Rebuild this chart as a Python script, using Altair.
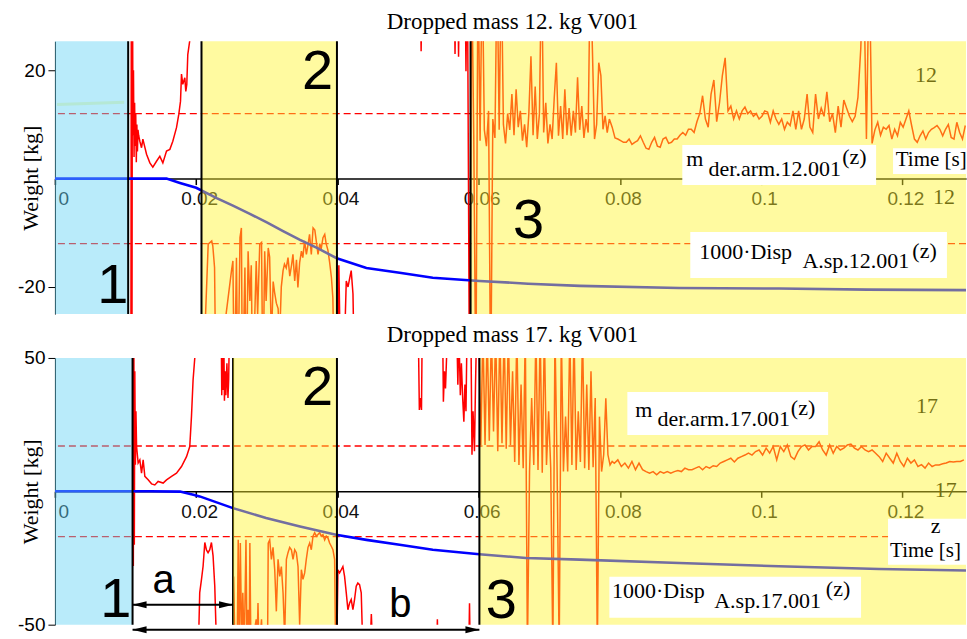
import altair as alt
import pandas as pd

# ------------------------------------------------------------------ common
X_TICKS = [0, 0.02, 0.04, 0.06, 0.08, 0.1, 0.12]
RED = "#ff0000"
BLUE = "#0000ff"
OV_YELLOW = "#fff42c"
OV_BLUE = "#63d3f4"

# ------------------------------------------------------------------ panel 1 (12 kg)
TOP_TITLE = "Dropped mass 12. kg V001"
TOP_MASS = 12
TOP_YDOMAIN = [-25, 25.35]
TOP_YTICKS = [-20, 20]

TOP_REGIONS_MS = [[0.0, 10.37, "blue"], [20.75, 39.93, "yellow"], [58.85, 129.0, "yellow"]]
TOP_BLACK_LINES_MS = [10.37, 20.75, 39.93, 58.85]
TOP_DIM_LINES_MS = []

TOP_FAINT_MS = [0.3, 9.8]
TOP_FAINT_V = [13.7, 14.1]

TOP_A_MS = [10.75, 10.82, 10.9, 10.97, 11.05, 11.12, 11.2, 11.28, 11.36, 11.44, 11.52, 11.6, 11.68,
            11.76, 11.85, 12.02, 12.26, 12.45, 12.97, 13.44, 13.86, 14.38, 14.85, 15.28, 15.8, 16.27,
            16.69, 17.21, 17.54, 17.78, 17.92, 18.1, 18.39, 18.53, 18.67, 18.81, 19.09, 19.2]
TOP_A_V = [-40, 40, -40, 40, 8, 20, 4, 14, 6, 12, 3, 10, 5, 9, 8, 6.9, 5.7, 7.3, 4.5, 2.9, 2.1, 3.2,
           4.1, 2.9, 5.1, 5.4, 6.9, 9.4, 11.9, 14.3, 19.3, 17.4, 18.6, 16.1, 17.4, 22.9, 25.5, 40]

TOP_B_MS = [20.9, 21.7, 22.2, 22.35, 22.6, 22.8, 25.0, 25.2, 25.4, 25.7, 25.9, 26.2, 26.4, 26.55,
            26.9, 27.1, 27.35, 27.6, 27.8, 28.0, 28.5, 28.7, 29.0, 29.25, 29.45, 29.7, 29.9, 30.2,
            30.4, 30.65, 30.9, 31.1, 31.35, 31.6, 31.8, 32.05, 32.3, 32.5, 32.75, 33.0, 33.25, 33.5,
            33.7, 33.95, 34.2, 34.4, 34.65, 34.9, 35.1, 35.35, 35.6, 35.85, 36.05, 36.3, 36.55, 36.8,
            37.0, 37.25, 37.5, 37.7, 37.95, 38.2, 38.4, 38.65, 38.9, 39.15, 39.35, 39.6, 40.0, 40.2,
            40.5, 40.8, 41.25, 41.5, 41.75, 41.95, 42.2, 42.45]
TOP_B_V = [-40, -12.1, -11.5, -12.4, -16.4, -40, -17, -15.2, -40, -14.6, -40, -10.9, -9.1, -40,
           -16.4, -40, -13.4, -22.6, -16, -40, -15.2, -25, -12.1, -11.8, -40, -13.4, -22.6, -12.8,
           -14.5, -30, -19, -21, -23, -24, -30, -20, -17, -15.8, -16.5, -14.6, -18, -16, -14, -18.9,
           -15, -20.1, -15.5, -13.4, -14.6, -11.5, -14, -12.1, -10.3, -14, -9.1, -9.5, -11.5, -14,
           -12, -13, -10.9, -10.3, -12, -13.2, -15.5, -18.3, -22, -40, -35, -16, -40, -40, -18.9,
           -20, -18.3, -17, -21.3, -40]

TOP_C_MS = [51.7, 51.85, 52.0, 56.5, 56.65, 56.8, 57.0, 57.15, 57.3, 58.05, 58.2, 58.35]
TOP_C_V = [40, 23.5, 40, 40, 23, 40, 40, 22.5, 40, 40, 19.8, 40]

TOP_D1_T0, TOP_D1_STEP = 58.4, 0.3
TOP_D1_V = [40, -40, 40, 8, -40, 40, 7, 40, 9, 6,
            12.5, -40, 11, 7.5, 40, 9, 40, 10, 6.5, 12,
            9, 15.6, 8, 16.5, 9.5, 12.5, 7, 10, 5.8, 12,
            22.6, 8, 17, 7.3, 12, 40, 8.5, 14, 6.5, 10,
            7.3, 15, 21.4, 7.9, 13.4, 7.3, 16.5, 8, 13, 7.9,
            12.5, 8.5, 18.7, 9, 13.4, 7.5, 11, 8.5, 40, 23.9,
            7.3, 10, 21.4, 19, 9.1, 11.6, 8.5, 11]
TOP_D2_T0, TOP_D2_STEP = 78.5, 0.4
TOP_D2_V = [11, 9.5, 7.5, 7.3, 7.0, 6.7, 6.7, 7.3, 6.3, 6.7,
            7.0, 7.9, 6.7, 5.6, 5.4, 6.7, 7.6, 6.0, 5.8, 7.3,
            7.6, 6.5, 6.7, 7.3, 7.3, 8.0, 8.5, 8.0, 9.1, 9.1,
            8.5, 10.5, 12, 15.3, 11, 9.5, 15.6, 18.2, 10.5, 14,
            19, 22.3, 12.5, 13.4, 11, 12.5, 11, 12.5, 13.2, 12,
            12.5, 11.5, 12, 11, 11.5, 12.5, 12.3, 10.4, 12.5, 11,
            10, 11, 9.1, 10.4, 9.8, 12.5, 9.1, 12.5, 9.1, 11,
            15.6, 9.5, 8.5, 15.6, 11, 13, 11.5, 16, 10.5, 12,
            8.5, 13.4, 9.5, 14.5, 13, 11.5, 10.5, 11.5, 15, 24,
            40, 7.3, 40, 6.5, 9, 10.4, 8.0, 9.5, 9.1, 9.8,
            7.3, 9.1, 7.9, 10.4, 9.5, 11, 12.5, 9.8, 7.3, 6.7,
            7.9, 8.8, 7.3, 8.5, 9.1, 9.4, 9.8, 9.1, 7.9, 9.1,
            10, 7.6, 7.3, 10.4, 8.5, 7.3, 9.8]

TOP_DISP_MS = [0, 15.8, 17.7, 20.0, 22.9, 25.2, 27.6, 30.0, 32.3, 34.7, 37.1, 39.9, 44.1, 48.8,
               53.5, 60.1, 67.0, 74.3, 88.4, 102.5, 115.0, 129.0]
TOP_DISP_V = [0, 0, -0.8, -1.7, -3.6, -5.0, -6.5, -8.1, -9.7, -11.3, -12.8, -14.7, -16.5, -17.4,
              -18.3, -18.9, -19.4, -19.8, -20.2, -20.3, -20.5, -20.6]

TOP_BOXES = [[88.83, 116.27, 6.18, -1.2], [89.96, 126.3, -9.86, -18.34], [118.67, 129.0, 5.62, 0.83]]
TOP_LABELS = ["m", "der.arm.12.001", "(z)", "1000·Disp", "A.sp.12.001", "(z)", "Time [s]"]
TOP_LABELS_MS = [89.39, 92.55, 111.46, 91.23, 105.84, 121.4, 119.05]
TOP_LABELS_V = [2.30, 0.46, 2.67, -14.89, -16.44, -14.6, 2.30]
TOP_LABELS_SIZE = [22, 22, 22, 22, 22, 22, 21]
TOP_CENTER_LABELS = []
TOP_CENTER_MS = []
TOP_CENTER_V = []
TOP_DIM_TEXT = ["12", "12"]
TOP_DIM_MS = [123.34, 125.88]
TOP_DIM_V = [17.79, -4.7]
TOP_BIG = ["1", "2", "3"]
TOP_BIG_MS = [8.2, 37.2, 67.05]
TOP_BIG_V = [-22.95, 16.5, -10.97]
TOP_BIG_SIZE = [56, 56, 56]
TOP_ARROWS = []

# ------------------------------------------------------------------ panel 2 (17 kg)
BOT_TITLE = "Dropped mass 17. kg V001"
BOT_MASS = 17
BOT_YDOMAIN = [-50, 50]
BOT_YTICKS = [-50, 50]

BOT_REGIONS_MS = [[0.0, 10.99, "blue"], [25.22, 39.93, "yellow"], [60.1, 129.0, "yellow"]]
BOT_BLACK_LINES_MS = [10.99, 39.93, 60.1]
BOT_DIM_LINES_MS = [25.22]

BOT_A_MS = [11.1, 11.17, 11.24, 11.31, 11.39, 11.47, 11.56, 11.78, 12.02, 12.26, 12.49, 12.73, 13.2,
            13.68, 14.14, 14.61, 15.32, 15.8, 16.51, 17.21, 17.92, 18.63, 19.09, 19.33, 19.56, 19.8, 19.9]
BOT_A_V = [-28, 60, -20, 45, 10, 30, 16.8, 10.6, 11.8, 6.8, 11.8, 5.6, 4.3, 2.8, 2.4, 3.7, 3.1, 4.3,
           5.6, 6.8, 9.3, 13, 16.8, 28, 41.8, 50, 60]

BOT_LOW1_MS = [20.3, 20.5, 20.75, 20.98, 21.22, 21.45, 21.68, 21.92, 22.16, 22.39, 22.63, 22.9]
BOT_LOW1_V = [-60, -38, -33, -28, -19.2, -22, -23, -21.9, -19.2, -24.2, -35.5, -60]

BOT_TOP1_MS = [23.55, 23.62, 23.7, 23.8, 23.9, 24.0, 24.1, 24.2, 24.35, 24.5, 24.6, 24.7]
BOT_TOP1_V = [60, 36, 60, 38, 60, 34, 45, 36, 48, 35, 42, 60]

BOT_B_MS = [25.2, 25.3, 25.5, 25.8, 25.95, 26.1, 26.25, 26.45, 26.6, 26.8, 27.05, 27.2, 27.35, 27.5,
            27.6, 27.75, 28.5, 28.6, 28.75, 28.9, 29.25, 29.4, 30.1, 30.2, 30.41, 30.65, 30.88, 31.12,
            31.35, 31.59, 31.83, 32.06, 32.3, 32.53, 32.77, 33.0, 33.24, 33.48, 33.71, 33.95, 34.18,
            34.42, 34.65, 34.89, 35.12, 35.36, 35.59, 35.83, 36.07, 36.3, 36.54, 36.77, 37.01, 37.24,
            37.48, 37.71, 37.95, 38.19, 38.42, 38.66, 38.89, 39.13, 39.36, 39.6, 39.74, 39.9, 40.07,
            40.3, 40.54, 40.77, 41.01, 41.25, 41.48, 41.72, 41.95, 42.19, 42.42, 42.66, 42.89, 43.13,
            43.37, 43.6]
BOT_B_V = [-60, -31.9, -60, -60, -18.2, -60, -19.4, -60, -38, -60, -18.2, -60, -44.4, -60, -19.4,
           -60, -48, -60, -41.9, -60, -48, -60, -60, -19.4, -18.2, -25.5, -21, -29.4, -45, -25.5,
           -31.9, -28.2, -38.1, -55, -25.5, -23, -21, -21.9, -25.5, -21.9, -23, -28.2, -50, -29.4,
           -33, -30.6, -25.5, -21, -19.4, -21.9, -16.8, -15.5, -16.8, -16.2, -15.5, -16.8, -16.2,
           -18.2, -16.8, -17.5, -19.4, -20.6, -21.9, -25.5, -60, -60, -29.4, -30.6, -29.4, -28.2,
           -31.9, -38.1, -44.4, -41.9, -40.6, -44.4, -40.6, -35.6, -34.4, -35, -38.1, -60]

BOT_LOW2_MS = [44.6, 44.8, 45.0, 54.05, 54.15, 54.25, 58.6, 58.7, 58.8]
BOT_LOW2_V = [-60, -46, -60, -60, -48, -60, -60, -42, -60]

BOT_TOP2_MS = [51.45, 51.6, 51.75, 51.9, 52.0, 54.9, 55.0, 55.15, 55.3, 55.45, 55.6, 56.9, 57.05,
               57.2, 57.4, 57.55, 57.75, 57.9, 58.05, 58.2, 58.35, 58.9, 59.05, 59.2, 59.4, 59.55, 59.7]
BOT_TOP2_V = [60, 30.5, 35, 30.5, 60, 60, 33.6, 45, 38.6, 50, 60, 60, 40, 60, 36, 48, 34, 26.1, 40,
              30, 60, 60, 13.7, 30, 15, 40, 60]

BOT_E1_T0, BOT_E1_STEP = 60.0, 0.3
BOT_E1_V = [60, 17.4, 60, 17.4, 60, 19, 60, 22.4, 60, 15,
            60, 18, 60, 16, 60, 17.4, 45, 11, 60, 9.9,
            40, 8.7, 60, -60, 7.4, 35, 9.9, 60, 8, 60,
            7, 60, 9.9, 30, 8.7, -60, 60, 8.7, -60, 60,
            7.4, 28, 7.4, 60, 9.9, 60, 8, 30, 11, 60,
            8.7, 40, 8, 45, 9, 35, -60, 28, 7.4, 13.7,
            34.9, 13.7, 9.9, 11.2]
BOT_E2_T0, BOT_E2_STEP = 79.2, 0.5
BOT_E2_V = [10.5, 11.8, 9.3, 10.6, 8.7, 11.2, 8.1, 10.6, 8.1, 7.4,
            6.8, 7.4, 6.2, 7.4, 6.8, 7.4, 6.8, 7.4, 7.8, 7.4,
            8.7, 8.1, 8.1, 8.7, 9.3, 8.1, 9.3, 8.7, 9.6, 9.3,
            10.6, 11.2, 11.8, 12.4, 11, 12.4, 13, 13.6, 14.3, 13.6,
            14.9, 15.5, 13.6, 16.2, 14.3, 16.8, 11.8, 16.8, 14.9, 17.4,
            13, 12, 14.9, 16.8, 17.4, 15.5, 16.8, 16.8, 18.6, 15.5,
            13.6, 17.4, 14.3, 16.8, 15.5, 16.2, 17.4, 17.7, 16.2, 15.5,
            16.8, 15.5, 14.9, 15.5, 14.3, 13, 11.2, 14.3, 12.4, 10.6,
            14.3, 11.2, 9.3, 12.4, 10.6, 11.8, 9.3, 10, 8.7, 10.6,
            9.3, 9.9, 9.9, 10.3, 10.6, 11.2, 11, 11.2, 11.2, 11.8]

BOT_DISP_MS = [0, 13.4, 17.7, 19.6, 20.5, 25.2, 29.9, 34.7, 39.8, 44.1, 48.8, 53.5, 60.1, 66.7,
               74.3, 88.4, 102.5, 116.7, 129.0]
BOT_DISP_V = [0, 0, -0.1, -1.3, -1.9, -6.3, -10.0, -13.2, -16.3, -18.2, -20.0, -21.9, -23.6, -25.0,
              -25.6, -26.9, -28.1, -29.1, -29.7]

BOT_BOXES = [[81.05, 109.48, 37.27, 21.16], [78.5, 114.14, -32.02, -47.38], [117.96, 129.0, -10.3, -27.5]]
BOT_LABELS = ["m", "der.arm.17.001", "(z)", "1000·Disp", "A.sp.17.001", "(z)", "Time [s]"]
BOT_LABELS_MS = [82.18, 85.33, 104.2, 78.88, 93.35, 109.15, 118.25]
BOT_LABELS_V = [28.0, 24.5, 28.65, -40.0, -43.75, -39.4, -24.65]
BOT_LABELS_SIZE = [22, 22, 22, 22, 22, 22, 21]
BOT_CENTER_LABELS = ["z"]
BOT_CENTER_MS = [124.7]
BOT_CENTER_V = [-15.66]
BOT_DIM_TEXT = ["17", "17"]
BOT_DIM_MS = [123.48, 126.12]
BOT_DIM_V = [29.4, -1.95]
BOT_BIG = ["1", "2", "3", "a", "b"]
BOT_BIG_MS = [8.63, 37.2, 63.2, 15.4, 48.9]
BOT_BIG_V = [-47.0, 32.4, -47.4, -38.0, -47.0]
BOT_BIG_SIZE = [56, 56, 56, 40, 40]
# arrows: start ms, end ms, level
BOT_ARROWS = [[10.99, 25.22, -42.5], [10.99, 60.1, -51.9]]
ARROW_HEAD_MS = 0.99


def pairs(seg, ms, v):
    return pd.DataFrame({"t": [m / 1000.0 for m in ms], "v": v, "seg": seg})


def grid(seg, t0, step, v):
    return pd.DataFrame({"t": [(t0 + i * step) / 1000.0 for i in range(len(v))], "v": v, "seg": seg})


def make_panel(P):
    H = P["height"]
    lo, hi = P["ydomain"]
    off = -(H - H * hi / (hi - lo))
    xs = alt.Scale(domain=[0, 0.129], nice=False, zero=False)
    ys = alt.Scale(domain=[lo, hi], nice=False, zero=False)
    xaxis = alt.Axis(values=X_TICKS, format="~g", title=None, offset=off, grid=False,
                     domainColor="black", domainWidth=1.5, tickColor="black", tickWidth=1.5,
                     tickSize=6, labelFont="Liberation Sans", labelFontSize=19,
                     labelColor="#111111", labelPadding=5, labelOffset=3)
    yaxis = alt.Axis(values=P["yticks"], title="Weight [kg]", grid=False,
                     titleFont="Liberation Serif", titleFontSize=22, titleFontWeight="normal",
                     titleColor="black", titleX=-24, titleY=H / 2, titleBaseline="middle",
                     titleAlign="center", labelFont="Liberation Sans", labelFontSize=19,
                     labelColor="black", labelPadding=3, tickSize=7, tickColor="black",
                     domainColor="black",
                     labelExpr="datum.value < 0 ? '-' + abs(datum.value) : datum.label")

    def X(f="t"):
        return alt.X(f + ":Q", scale=xs, axis=xaxis)

    def Y(f="v"):
        return alt.Y(f + ":Q", scale=ys, axis=yaxis)

    layers = []
    # dashed +/- mass lines
    dash = pd.DataFrame({"v": [P["mass"], -P["mass"]]})
    layers.append(alt.Chart(dash).mark_rule(color=RED, strokeDash=[7, 4], strokeWidth=1.3)
                  .encode(y=Y()))
    if P.get("faint"):
        fd = pairs("faint", *P["faint"])
        layers.append(alt.Chart(fd).mark_line(color="#f4f7a0", strokeWidth=3, opacity=0.7, clip=True)
                      .encode(x=X(), y=Y()))
    sig = pd.concat(P["signal"], ignore_index=True)
    layers.append(alt.Chart(sig).mark_line(color=RED, strokeWidth=1.5, clip=True)
                  .encode(x=X(), y=Y(), detail="seg:N"))
    disp = pairs("disp", P["disp_ms"], P["disp_v"])
    layers.append(alt.Chart(disp).mark_line(color=BLUE, strokeWidth=2.6, clip=True)
                  .encode(x=X(), y=Y()))
    # texts and lines that sit under the coloured overlay
    dim = pd.DataFrame({"t": [m / 1000 for m in P["dim_ms"]], "v": P["dim_v"], "txt": P["dim_text"]})
    layers.append(alt.Chart(dim).mark_text(font="Liberation Serif", fontSize=22, color="black",
                                           align="center", baseline="alphabetic")
                  .encode(x=X(), y=Y(), text="txt:N"))
    if P["dim_lines"]:
        dl = pd.DataFrame({"t": [m / 1000 for m in P["dim_lines"]]})
        layers.append(alt.Chart(dl).mark_rule(color="black", strokeWidth=2).encode(x=X()))
    # coloured translucent regions
    reg = pd.DataFrame({"t": [r[0] / 1000 for r in P["regions"]],
                        "t2": [r[1] / 1000 for r in P["regions"]],
                        "c": [OV_BLUE if r[2] == "blue" else OV_YELLOW for r in P["regions"]]})
    layers.append(alt.Chart(reg).mark_rect(opacity=0.45)
                  .encode(x=X(), x2="t2:Q", color=alt.Color("c:N", scale=None)))
    bl = pd.DataFrame({"t": [m / 1000 for m in P["black_lines"]]})
    layers.append(alt.Chart(bl).mark_rule(color="black", strokeWidth=2).encode(x=X()))
    # white label boxes
    bx = pd.DataFrame({"t": [b[0] / 1000 for b in P["boxes"]], "t2": [b[1] / 1000 for b in P["boxes"]],
                       "v": [b[2] for b in P["boxes"]], "v2": [b[3] for b in P["boxes"]]})
    layers.append(alt.Chart(bx).mark_rect(color="white", opacity=1)
                  .encode(x=X(), x2="t2:Q", y=Y(), y2="v2:Q"))
    lab = pd.DataFrame({"t": [m / 1000 for m in P["labels_ms"]], "v": P["labels_v"],
                        "txt": P["labels"], "s": P["labels_size"]})
    layers.append(alt.Chart(lab).mark_text(font="Liberation Serif", color="black", align="left",
                                           baseline="alphabetic")
                  .encode(x=X(), y=Y(), text="txt:N", size=alt.Size("s:Q", scale=None, legend=None)))
    if P["center_labels"]:
        cl = pd.DataFrame({"t": [m / 1000 for m in P["center_ms"]], "v": P["center_v"],
                           "txt": P["center_labels"]})
        layers.append(alt.Chart(cl).mark_text(font="Liberation Serif", fontSize=22, color="black",
                                              align="center", baseline="alphabetic")
                      .encode(x=X(), y=Y(), text="txt:N"))
    big = pd.DataFrame({"t": [m / 1000 for m in P["big_ms"]], "v": P["big_v"], "txt": P["big"],
                        "s": P["big_size"]})
    layers.append(alt.Chart(big).mark_text(font="Liberation Sans", color="black", align="center",
                                           baseline="alphabetic")
                  .encode(x=X(), y=Y(), text="txt:N", size=alt.Size("s:Q", scale=None, legend=None)))
    if P["arrows"]:
        ar = pd.DataFrame({"t": [a[0] / 1000 for a in P["arrows"]], "t2": [a[1] / 1000 for a in P["arrows"]],
                           "v": [a[2] for a in P["arrows"]]})
        layers.append(alt.Chart(ar).mark_rule(color="black", strokeWidth=2)
                      .encode(x=X(), x2="t2:Q", y=Y()))
        hl = pd.DataFrame({"t": [(a[0] + ARROW_HEAD_MS) / 1000 for a in P["arrows"]],
                           "v": [a[2] for a in P["arrows"]]})
        hr = pd.DataFrame({"t": [(a[1] - ARROW_HEAD_MS) / 1000 for a in P["arrows"]],
                           "v": [a[2] for a in P["arrows"]]})
        layers.append(alt.Chart(hl).mark_point(shape="M-1,0L1,-0.5L1,0.5Z", filled=True, size=196,
                                               color="black", opacity=1, strokeWidth=0)
                      .encode(x=X(), y=Y()))
        layers.append(alt.Chart(hr).mark_point(shape="M1,0L-1,-0.5L-1,0.5Z", filled=True, size=196,
                                               color="black", opacity=1, strokeWidth=0)
                      .encode(x=X(), y=Y()))
    return alt.layer(*layers).properties(
        width=912, height=H,
        title=alt.Title(P["title"], font="Liberation Serif", fontSize=23, fontWeight="normal",
                        color="black", anchor="middle", offset=P["title_offset"], dx=2))


TOP = dict(
    title=TOP_TITLE, mass=TOP_MASS, ydomain=TOP_YDOMAIN, yticks=TOP_YTICKS, height=273,
    regions=TOP_REGIONS_MS, black_lines=TOP_BLACK_LINES_MS, dim_lines=TOP_DIM_LINES_MS,
    faint=(TOP_FAINT_MS, TOP_FAINT_V),
    signal=[pairs("a", TOP_A_MS, TOP_A_V), pairs("b", TOP_B_MS, TOP_B_V),
            pairs("c", TOP_C_MS, TOP_C_V),
            pd.concat([grid("d", TOP_D1_T0, TOP_D1_STEP, TOP_D1_V),
                       grid("d", TOP_D2_T0, TOP_D2_STEP, TOP_D2_V)])],
    disp_ms=TOP_DISP_MS, disp_v=TOP_DISP_V, boxes=TOP_BOXES,
    labels=TOP_LABELS, labels_ms=TOP_LABELS_MS, labels_v=TOP_LABELS_V, labels_size=TOP_LABELS_SIZE,
    center_labels=TOP_CENTER_LABELS, center_ms=TOP_CENTER_MS, center_v=TOP_CENTER_V,
    dim_text=TOP_DIM_TEXT, dim_ms=TOP_DIM_MS, dim_v=TOP_DIM_V,
    big=TOP_BIG, big_ms=TOP_BIG_MS, big_v=TOP_BIG_V, big_size=TOP_BIG_SIZE,
    arrows=TOP_ARROWS, title_offset=6)

BOT = dict(
    title=BOT_TITLE, mass=BOT_MASS, ydomain=BOT_YDOMAIN, yticks=BOT_YTICKS, height=267,
    regions=BOT_REGIONS_MS, black_lines=BOT_BLACK_LINES_MS, dim_lines=BOT_DIM_LINES_MS,
    faint=None,
    signal=[pairs("a", BOT_A_MS, BOT_A_V), pairs("l1", BOT_LOW1_MS, BOT_LOW1_V),
            pairs("t1", BOT_TOP1_MS, BOT_TOP1_V), pairs("b", BOT_B_MS, BOT_B_V),
            pairs("l2", BOT_LOW2_MS, BOT_LOW2_V), pairs("t2", BOT_TOP2_MS, BOT_TOP2_V),
            pd.concat([grid("e", BOT_E1_T0, BOT_E1_STEP, BOT_E1_V),
                       grid("e", BOT_E2_T0, BOT_E2_STEP, BOT_E2_V)])],
    disp_ms=BOT_DISP_MS, disp_v=BOT_DISP_V, boxes=BOT_BOXES,
    labels=BOT_LABELS, labels_ms=BOT_LABELS_MS, labels_v=BOT_LABELS_V, labels_size=BOT_LABELS_SIZE,
    center_labels=BOT_CENTER_LABELS, center_ms=BOT_CENTER_MS, center_v=BOT_CENTER_V,
    dim_text=BOT_DIM_TEXT, dim_ms=BOT_DIM_MS, dim_v=BOT_DIM_V,
    big=BOT_BIG, big_ms=BOT_BIG_MS, big_v=BOT_BIG_V, big_size=BOT_BIG_SIZE,
    arrows=BOT_ARROWS, title_offset=2)

chart = alt.vconcat(make_panel(TOP), make_panel(BOT), spacing=9).properties(
    padding={"left": 17, "top": 11, "right": 0, "bottom": 0},
    background="white",
).configure_view(stroke=None)

chart.save("out.html", embed_options={"renderer": "svg", "actions": False})
